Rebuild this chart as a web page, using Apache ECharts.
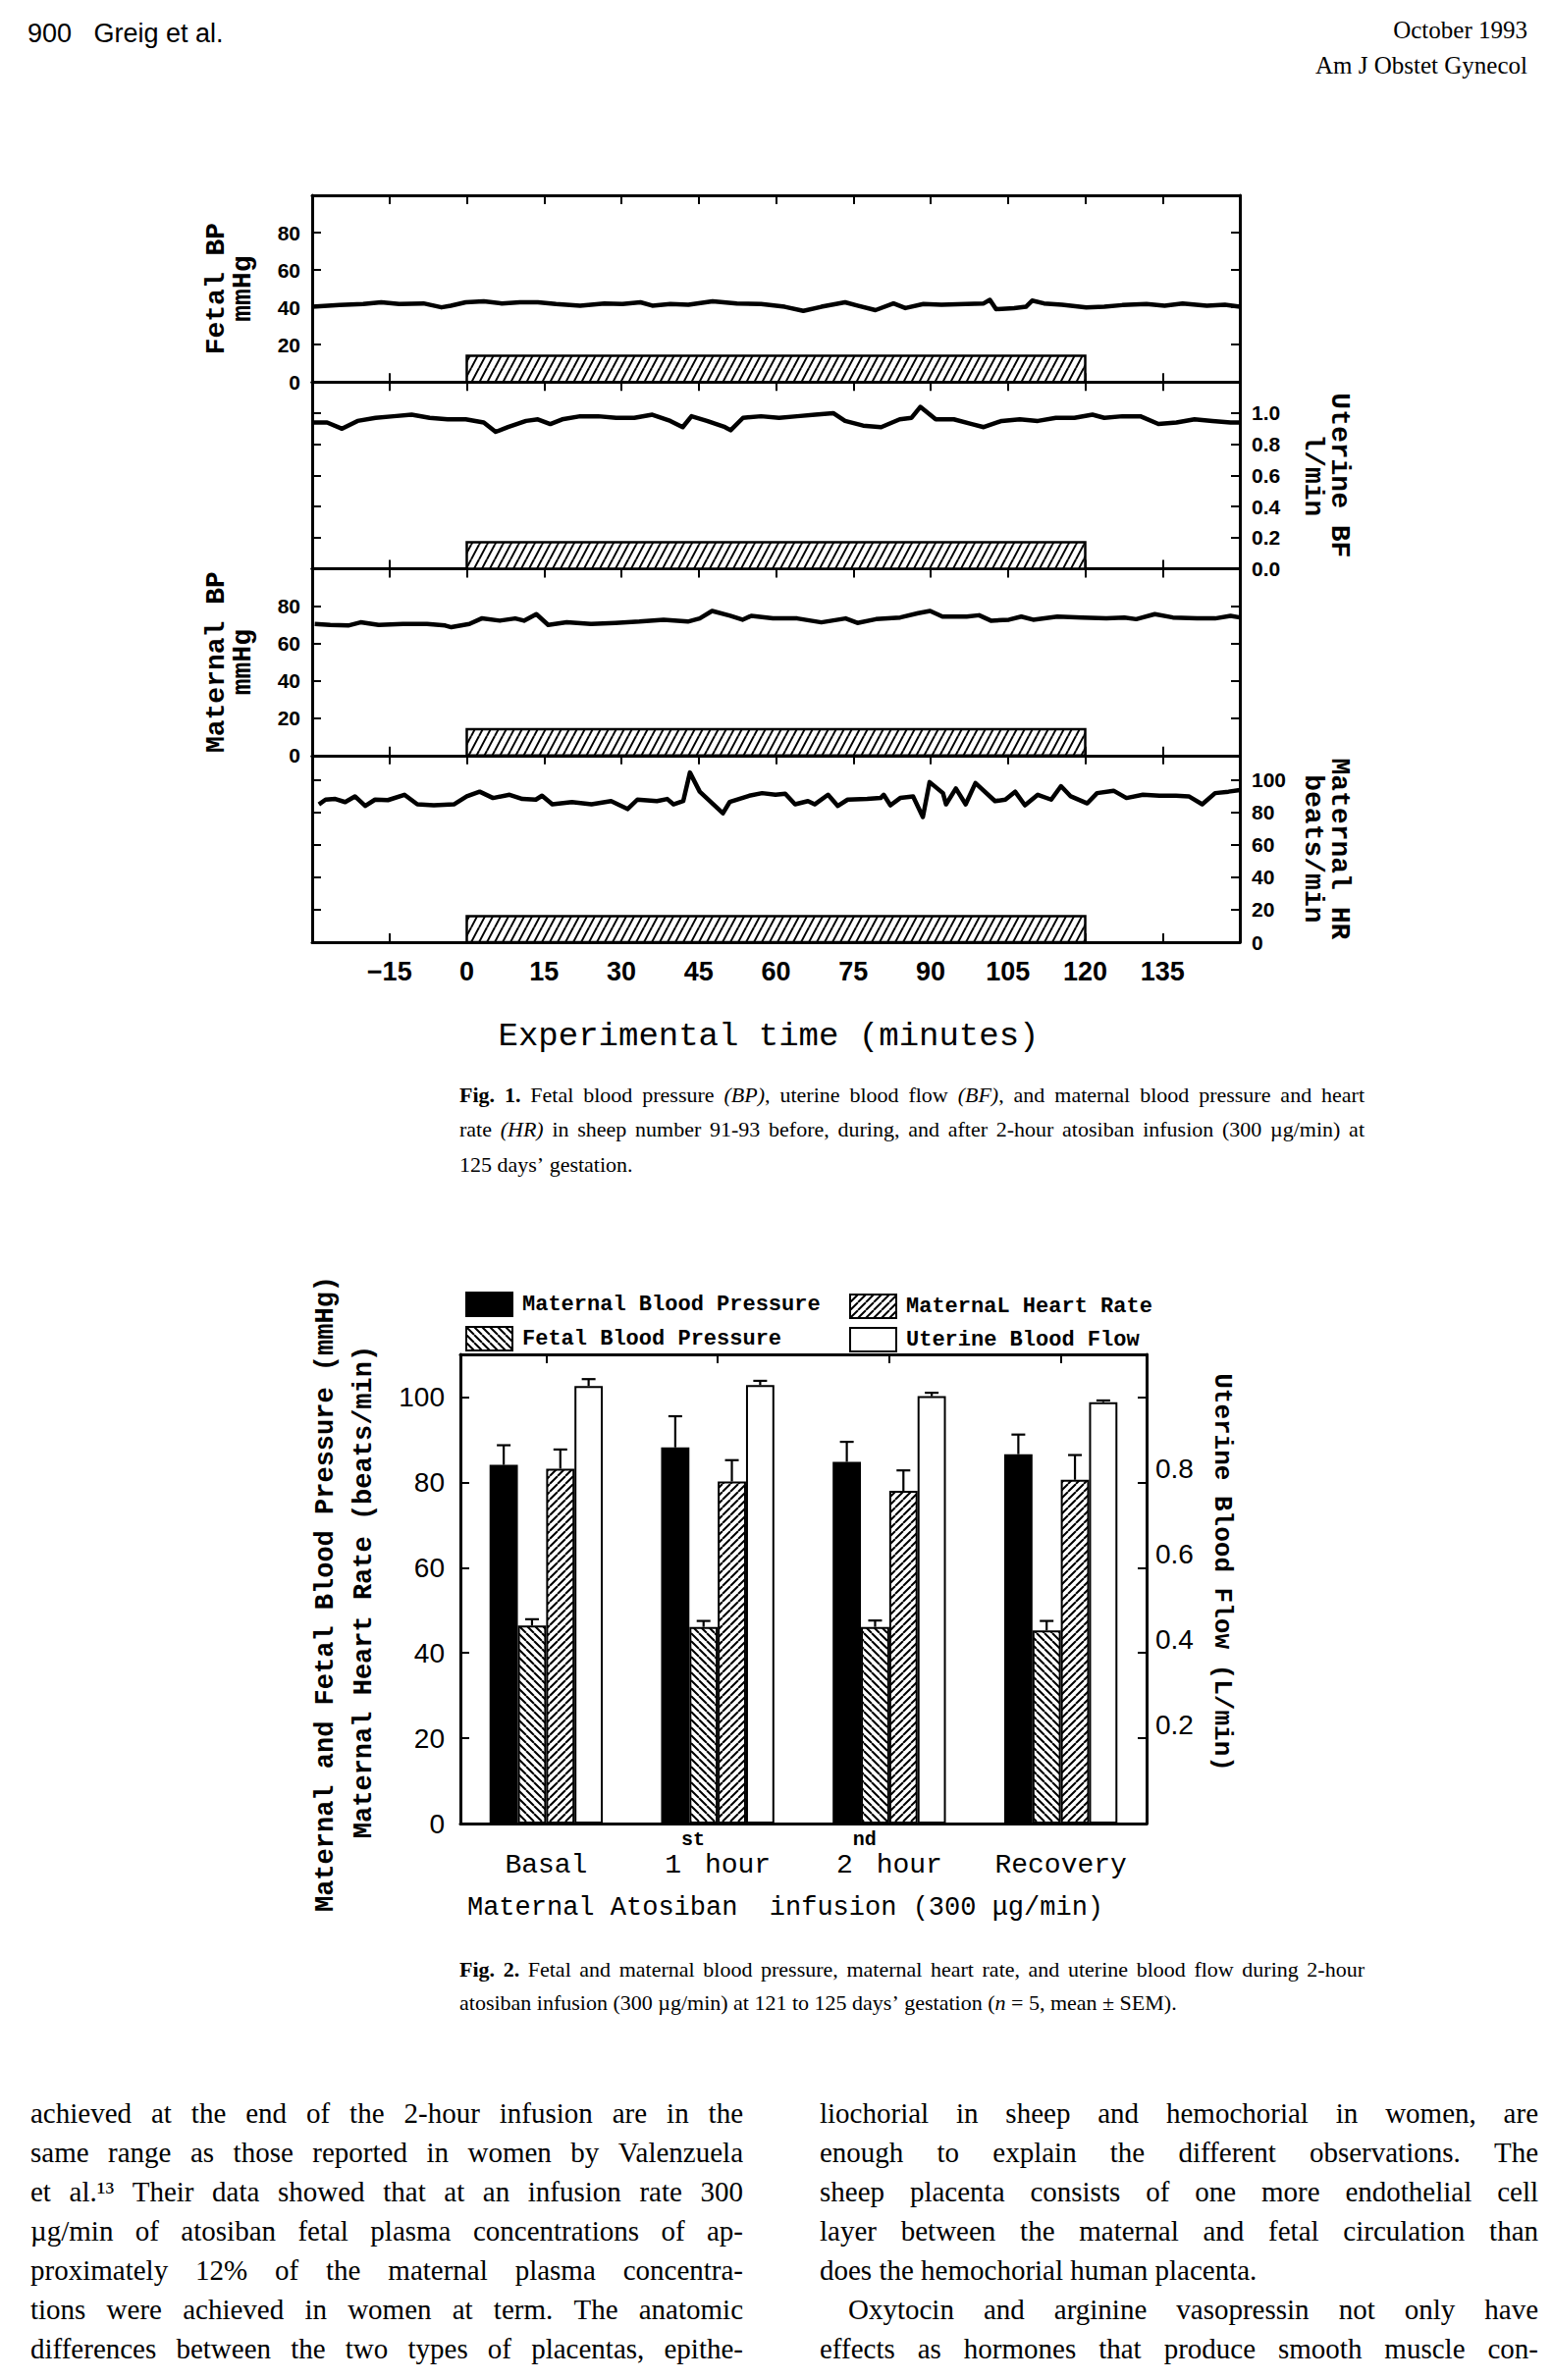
<!DOCTYPE html>
<html>
<head>
<meta charset="utf-8">
<script src="https://cdn.jsdelivr.net/npm/echarts/dist/echarts.min.js"></script>
<style>
html,body{margin:0;padding:0;background:#fff;}
#chart{width:1581px;height:2425px;}
</style>
</head>
<body>
<div id="chart"></div>
<script>
// ================= DATA =================
// Fig. 1 : time axis (minutes)
const timeMin = -30, timeMax = 150, timeStep = 15;
const infusionPeriod = [0, 120];              // atosiban infusion (min)
const infusionBarHeight = [14, 0.17, 14, 16]; // height of the hatched marker in each panel (axis units)

// Fetal BP (mmHg) : [time, value]
const fetalBP = [[-30,40.3],[-24.7,41.2],[-20.1,41.8],[-16.6,42.7],[-13.1,41.8],[-8.4,42.1],[-4.9,40.0],[-3.1,40.9],[-0.2,42.7],[3.3,43.2],[6.8,42.1],[10.3,42.7],[13.8,42.7],[17.3,41.8],[22.0,40.9],[26.7,42.1],[30.2,41.8],[33.7,42.7],[36.0,40.9],[39.5,41.8],[43.0,41.4],[47.7,43.2],[52.4,42.1],[57.1,41.8],[61.7,40.3],[65.3,38.1],[68.8,40.3],[73.4,42.7],[75.8,40.9],[79.3,38.5],[82.8,42.1],[85.1,39.6],[88.6,41.8],[92.1,41.4],[96.8,41.8],[100.3,42.1],[101.5,44.0],[102.7,39.0],[106.2,39.6],[108.5,40.3],[109.7,43.6],[112.0,42.1],[115.5,41.4],[120.2,40.0],[123.7,40.3],[127.2,41.2],[131.9,41.8],[135.4,40.9],[138.9,42.1],[143.6,40.9],[147.1,41.4],[150,40.3]];
// Uterine BF (l/min)
const uterineBF = [[-30,0.94],[-27.1,0.94],[-24.2,0.90],[-21.2,0.95],[-17.7,0.97],[-14.2,0.98],[-10.7,0.99],[-7.2,0.97],[-3.7,0.96],[-0.2,0.96],[3.3,0.94],[5.6,0.88],[8.0,0.91],[11.5,0.95],[13.8,0.96],[16.2,0.93],[18.5,0.96],[22.0,0.98],[25.5,0.98],[29.0,0.97],[32.5,0.97],[36.0,0.99],[39.5,0.95],[41.9,0.91],[43.6,0.98],[46.6,0.95],[50.1,0.91],[51.2,0.89],[53.6,0.97],[57.1,0.98],[60.6,0.97],[64.1,0.98],[67.6,0.99],[71.1,1.00],[73.4,0.95],[76.9,0.92],[80.4,0.91],[84.0,0.96],[86.3,0.97],[88.0,1.04],[91.0,0.96],[94.5,0.96],[98.0,0.93],[100.3,0.91],[103.8,0.95],[107.3,0.96],[110.8,0.95],[114.3,0.97],[117.9,0.97],[121.4,0.99],[123.7,0.97],[127.2,0.98],[130.7,0.98],[134.2,0.93],[137.7,0.94],[141.2,0.96],[144.7,0.95],[148.2,0.94],[150,0.94]];
// Maternal BP (mmHg)
const maternalBP = [[-29.5,70.4],[-26.5,69.9],[-23.0,69.6],[-20.6,71.3],[-17.1,69.9],[-12.4,70.4],[-7.7,70.4],[-4.2,69.6],[-3.0,68.7],[0.5,70.4],[2.9,73.4],[6.4,72.2],[9.4,73.4],[11.1,72.2],[13.5,75.7],[15.8,69.9],[19.4,71.3],[24.1,70.4],[28.8,71.0],[33.5,71.7],[38.2,72.7],[42.9,71.7],[45.2,73.4],[47.6,77.4],[51.1,74.8],[53.5,72.7],[55.2,74.8],[59.4,73.4],[64.1,73.4],[68.8,71.3],[73.5,73.4],[75.8,71.0],[79.4,73.0],[84.1,73.9],[87.6,76.2],[89.9,77.4],[92.3,74.4],[97.0,74.4],[99.4,75.1],[101.7,72.2],[105.2,72.7],[107.6,74.4],[109.9,72.7],[114.6,74.4],[119.4,73.9],[124.1,73.4],[127.6,73.9],[129.9,73.0],[133.5,75.7],[137.0,73.9],[141.7,73.4],[145.2,73.4],[148.2,74.8],[150,73.9]];
// Maternal HR (beats/min)
const maternalHR = [[-28.7,84.9],[-27.4,87.8],[-25.5,88.2],[-23.6,86.3],[-21.7,89.8],[-19.7,83.9],[-17.8,87.8],[-15.3,87.5],[-12.1,90.8],[-9.6,84.9],[-6.4,84.3],[-2.5,84.9],[0,89.8],[2.5,92.7],[5.1,88.8],[8.3,90.8],[10.8,88.2],[13.4,87.8],[14.6,90.2],[16.6,84.9],[20.4,86.3],[24.2,84.9],[28.0,86.9],[31.2,82.0],[33.1,87.8],[36.9,86.9],[38.9,88.2],[40.1,84.9],[42.0,86.9],[43.3,104.5],[45.2,92.7],[49.7,79.4],[51.0,86.3],[54.8,90.2],[57.3,91.8],[59.9,90.8],[61.8,91.4],[63.7,84.9],[66.2,86.9],[67.5,84.9],[70.1,90.8],[72.0,83.9],[73.9,87.8],[77.7,88.2],[80.3,88.8],[80.9,90.8],[82.2,84.3],[84.1,88.8],[86.6,89.8],[88.5,77.1],[89.8,98.6],[92.4,91.8],[93.0,84.9],[94.9,94.7],[96.8,84.9],[98.7,98.0],[102.5,86.9],[104.5,87.8],[106.4,92.7],[108.3,84.3],[110.8,90.8],[113.4,87.8],[115.3,96.1],[117.2,89.8],[120.4,85.5],[122.3,91.8],[125.5,93.3],[128.0,88.8],[131.2,90.8],[134.4,90.2],[137.6,90.2],[140.1,89.8],[142.7,84.9],[145.2,91.8],[147.8,92.7],[150,93.7]];
const panelTraces = [fetalBP, uterineBF, maternalBP, maternalHR];
const panelRanges = [[0,100,20],[0,1.2,0.2],[0,100,20],[0,115,20]]; // [min,max,interval]
const panelLeftTitles = ['Fetal BP\nmmHg', '', 'Maternal BP\nmmHg', ''];
const panelRightTitles = ['', 'Uterine BF\nl/min', '', 'Maternal HR\nbeats/min'];

// Fig. 2
const categories = ['Basal', '1st hour', '2nd hour', 'Recovery'];
const seriesNames = ['Maternal Blood Pressure', 'Fetal Blood Pressure', 'MaternaL Heart Rate', 'Uterine Blood Flow'];
const maternalBPMean = [84.1, 88.2, 84.8, 86.6];
const maternalBPSem  = [4.6, 7.3, 4.7, 4.6];
const fetalBPMean    = [46.4, 46.1, 46.1, 45.3];
const fetalBPSem     = [1.5, 1.4, 1.5, 2.2];
const maternalHRMean = [83.2, 80.2, 78.0, 80.6];
const maternalHRSem  = [4.5, 5.0, 4.8, 5.8];
const uterineBFMean  = [1.026, 1.028, 1.002, 0.988];
const uterineBFSem   = [0.016, 0.010, 0.008, 0.004];

// Text
const headerLeft = '900   Greig et al.';
const headerRight = ['October 1993', 'Am J Obstet Gynecol'];
const fig1XTitle = 'Experimental time (minutes)';
const fig2XTitle = 'Maternal Atosiban  infusion (300 \u03bcg/min)';
const fig2LeftTitles = ['Maternal and Fetal Blood Pressure (mmHg)', 'Maternal Heart Rate (beats/min)'];
const fig2RightTitle = 'Uterine Blood Flow (L/min)';
const caption1 = [
  '**Fig.** **1.** Fetal blood pressure _(BP)_, uterine blood flow _(BF)_, and maternal blood pressure and heart',
  'rate _(HR)_ in sheep number 91-93 before, during, and after 2-hour atosiban infusion (300 \u00b5g/min) at',
  '125 days\u2019 gestation.'
];
const caption2 = [
  '**Fig.** **2.** Fetal and maternal blood pressure, maternal heart rate, and uterine blood flow during 2-hour',
  'atosiban infusion (300 \u00b5g/min) at 121 to 125 days\u2019 gestation (_n_ = 5, mean \u00b1 SEM).'
];
const bodyLeft = [
  'achieved at the end of the 2-hour infusion are in the',
  'same range as those reported in women by Valenzuela',
  'et al.\u00b9\u00b3 Their data showed that at an infusion rate 300',
  '\u00b5g/min of atosiban fetal plasma concentrations of ap-',
  'proximately 12% of the maternal plasma concentra-',
  'tions were achieved in women at term. The anatomic',
  'differences between the two types of placentas, epithe-'
];
const bodyRight = [
  'liochorial in sheep and hemochorial in women, are',
  'enough to explain the different observations. The',
  'sheep placenta consists of one more endothelial cell',
  'layer between the maternal and fetal circulation than',
  'does the hemochorial human placenta.',
  'Oxytocin and arginine vasopressin not only have',
  'effects as hormones that produce smooth muscle con-'
];

// ================= STYLE / LAYOUT =================
const INK = '#000';
const MONO = '"Liberation Mono", "DejaVu Sans Mono", monospace';
const SANS = '"Liberation Sans", Arial, sans-serif';
const SERIF = '"Liberation Serif", "Times New Roman", serif';

function hatchCanvas(w, h, lw, slash) {
  const c = document.createElement('canvas');
  c.width = w; c.height = h;
  const g = c.getContext('2d');
  g.fillStyle = '#fff'; g.fillRect(0, 0, w, h);
  g.strokeStyle = INK; g.lineWidth = lw;
  g.beginPath();
  for (const o of [-w, 0, w]) {
    if (slash) { g.moveTo(o, h); g.lineTo(o + w, 0); }
    else { g.moveTo(o, 0); g.lineTo(o + w, h); }
  }
  g.stroke();
  return c;
}
const hatchFig1 = hatchCanvas(8, 15, 2, true);
const hatchSlash = hatchCanvas(8, 8, 2, true);
const hatchBack = hatchCanvas(8, 8, 2, false);

const F1 = { left: 318, width: 945, top: 199, ph: 190.25 };
const F2 = { left: 469, width: 699, top: 1380, height: 478 };

const axisLineStyle = { show: true, onZero: false, lineStyle: { color: INK, width: 3 } };
const tickInside = { show: true, inside: true, length: 9, lineStyle: { color: INK, width: 2 } };

const grids = [], xAxes = [], yAxes = [], series = [];

for (let i = 0; i < 4; i++) {
  grids.push({ left: F1.left, width: F1.width, top: F1.top + i * F1.ph, height: F1.ph });
  const xBase = { gridIndex: i, type: 'value', min: timeMin, max: timeMax, interval: timeStep,
    axisLine: axisLineStyle, axisTick: tickInside, splitLine: { show: false } };
  xAxes.push(Object.assign({}, xBase, { position: 'bottom',
    axisLabel: { show: i === 3, showMinLabel: false, showMaxLabel: false, margin: 16,
      fontFamily: SANS, fontWeight: 'bold', fontSize: 27, color: INK,
      formatter: v => v < 0 ? '\u2212' + (-v) : String(v) } }));
  xAxes.push(Object.assign({}, xBase, { position: 'top', axisLabel: { show: false } }));
  const r = panelRanges[i];
  const yBase = { gridIndex: i, type: 'value', min: r[0], max: r[1], interval: r[2],
    axisLine: axisLineStyle, axisTick: tickInside, splitLine: { show: false } };
  const lab = (show) => ({ show, showMaxLabel: false, margin: 12, fontFamily: SANS, fontWeight: 'bold',
    fontSize: 21, color: INK, formatter: v => r[2] < 1 ? v.toFixed(1) : String(v) });
  yAxes.push(Object.assign({}, yBase, { position: 'left', axisLabel: lab(i === 0 || i === 2) }));
  yAxes.push(Object.assign({}, yBase, { position: 'right', axisLabel: lab(i === 1 || i === 3) }));

  series.push({ type: 'custom', xAxisIndex: 2 * i, yAxisIndex: 2 * i, z: 2,
    data: [[infusionPeriod[0], infusionPeriod[1], infusionBarHeight[i]]],
    renderItem: (params, api) => {
      const p0 = api.coord([api.value(0), 0]);
      const p1 = api.coord([api.value(1), api.value(2)]);
      return { type: 'rect', shape: { x: p0[0], y: p1[1], width: p1[0] - p0[0], height: p0[1] - p1[1] },
        style: { fill: { image: hatchFig1, repeat: 'repeat' }, stroke: INK, lineWidth: 2.5 } };
    } });
  series.push({ type: 'line', xAxisIndex: 2 * i, yAxisIndex: 2 * i, z: 3, data: panelTraces[i],
    showSymbol: false, symbol: 'none', smooth: false,
    lineStyle: { color: INK, width: 4.5, join: 'round' } });
}

// Fig. 2 grid (index 4)
grids.push({ left: F2.left, width: F2.width, top: F2.top, height: F2.height });
const catLabel = {
  margin: 6, verticalAlign: 'top', color: INK,
  formatter: v => {
    const m = v.match(/^(\d)(st|nd) (.*)$/);
    return m ? `{n|${m[1]}}{s|${m[2]}}{n|${m[3]}}` : `{n|${v}}`;
  },
  rich: {
    n: { fontFamily: MONO, fontSize: 28, color: INK, lineHeight: 72 },
    s: { fontFamily: MONO, fontWeight: 'bold', fontSize: 20, color: INK, lineHeight: 20, verticalAlign: 'top' }
  }
};
xAxes.push({ gridIndex: 4, type: 'category', data: categories, position: 'bottom',
  axisLine: axisLineStyle, axisTick: { show: false }, axisLabel: catLabel });
xAxes.push({ gridIndex: 4, type: 'category', data: categories, position: 'top',
  axisLine: axisLineStyle, axisTick: Object.assign({ alignWithLabel: true }, tickInside), axisLabel: { show: false } });
yAxes.push({ gridIndex: 4, type: 'value', min: 0, max: 110, interval: 20, position: 'left',
  axisLine: axisLineStyle, axisTick: tickInside, splitLine: { show: false },
  axisLabel: { showMaxLabel: false, margin: 16, fontFamily: SANS, fontSize: 28, color: INK } });
yAxes.push({ gridIndex: 4, type: 'value', min: 0, max: 1.1, interval: 0.2, position: 'right',
  axisLine: axisLineStyle, axisTick: tickInside, splitLine: { show: false },
  axisLabel: { margin: 9, fontFamily: SANS, fontSize: 28, color: INK, verticalAlign: 'bottom',
    formatter: v => (v > 0.1 && v < 0.9) ? v.toFixed(1) : '' } });

const fig2Means = [maternalBPMean, fetalBPMean, maternalHRMean, uterineBFMean];
const fig2Sems = [maternalBPSem, fetalBPSem, maternalHRSem, uterineBFSem];
const fig2Fills = [INK, { image: hatchBack, repeat: 'repeat' }, { image: hatchSlash, repeat: 'repeat' }, '#fff'];
const CAT_GAP = 0.34;
for (let k = 0; k < 4; k++) {
  const yIdx = k === 3 ? 9 : 8;
  series.push({ name: seriesNames[k], type: 'bar', xAxisIndex: 8, yAxisIndex: yIdx,
    data: fig2Means[k], barGap: '0%', barCategoryGap: (CAT_GAP * 100) + '%',
    itemStyle: { color: fig2Fills[k], borderColor: INK, borderWidth: 2 } });
  series.push({ type: 'custom', xAxisIndex: 8, yAxisIndex: yIdx, z: 5,
    data: fig2Means[k].map((m, i) => [i, m, m + fig2Sems[k][i]]),
    renderItem: (params, api) => {
      const band = api.size([1, 0])[0];
      const bw = band * (1 - CAT_GAP) / 4;
      const pTop = api.coord([api.value(0), api.value(1)]);
      const pUp = api.coord([api.value(0), api.value(2)]);
      const x = pTop[0] + (k - 1.5) * bw;
      return { type: 'group', children: [
        { type: 'line', shape: { x1: x, y1: pTop[1], x2: x, y2: pUp[1] }, style: { stroke: INK, lineWidth: 2.2 } },
        { type: 'line', shape: { x1: x - 7, y1: pUp[1], x2: x + 7, y2: pUp[1] }, style: { stroke: INK, lineWidth: 2.2 } }
      ] };
    } });
}

// ================= TEXT (graphic) =================
const measureCtx = document.createElement('canvas').getContext('2d');
function parseWord(word) {
  const out = [];
  word.split(/(\*\*[^*]+\*\*|_[^_]+_)/).forEach(s => {
    if (!s) return;
    if (s.startsWith('**') && s.endsWith('**')) out.push({ t: s.slice(2, -2), w: 'bold', i: 'normal' });
    else if (s.length > 2 && s.startsWith('_') && s.endsWith('_')) out.push({ t: s.slice(1, -1), w: 'normal', i: 'italic' });
    else out.push({ t: s, w: 'normal', i: 'normal' });
  });
  return out;
}
function fontOf(seg, size, fam) { return `${seg.i} ${seg.w} ${size}px ${fam}`; }
const graphics = [];
function layoutLine(text, x0, x1, y, size, fam, justify) {
  const words = text.trim().split(/\s+/).map(parseWord);
  const widths = words.map(ws => ws.reduce((a, s) => { measureCtx.font = fontOf(s, size, fam); return a + measureCtx.measureText(s.t).width; }, 0));
  const total = widths.reduce((a, b) => a + b, 0);
  measureCtx.font = `normal normal ${size}px ${fam}`;
  const space = measureCtx.measureText(' ').width;
  const gap = (justify && words.length > 1) ? Math.max((x1 - x0 - total) / (words.length - 1), space * 0.6) : space;
  let x = x0;
  words.forEach((ws) => {
    ws.forEach(s => {
      measureCtx.font = fontOf(s, size, fam);
      graphics.push({ type: 'text', x, y, silent: true,
        style: { text: s.t, font: fontOf(s, size, fam), fill: INK, textAlign: 'left', textVerticalAlign: 'middle' } });
      x += measureCtx.measureText(s.t).width;
    });
    x += gap;
  });
}
function textEl(text, x, y, font, align, rotation) {
  return { type: 'text', x, y, rotation: rotation || 0, silent: true,
    style: { text, font, fill: INK, textAlign: align || 'center', textVerticalAlign: 'middle', lineHeight: 27 } };
}

// header
graphics.push(textEl(headerLeft, 28, 34, `normal 27px ${SANS}`, 'left'));
graphics.push(textEl(headerRight[0], 1556, 30, `normal 25px ${SERIF}`, 'right'));
graphics.push(textEl(headerRight[1], 1556, 66, `normal 25px ${SERIF}`, 'right'));

// Fig 1 titles
for (let i = 0; i < 4; i++) {
  const cy = F1.top + i * F1.ph + F1.ph / 2;
  if (panelLeftTitles[i]) graphics.push(textEl(panelLeftTitles[i], 234, cy, `bold 28px ${MONO}`, 'center', Math.PI / 2));
  if (panelRightTitles[i]) graphics.push(textEl(panelRightTitles[i], 1351, cy, `bold 28px ${MONO}`, 'center', -Math.PI / 2));
}
graphics.push(textEl(fig1XTitle, 783, 1056, `normal 34px ${MONO}`, 'center'));

// Fig 2 titles
graphics.push(textEl(fig2LeftTitles[0], 332, 1624, `bold 27px ${MONO}`, 'center', Math.PI / 2));
graphics.push(textEl(fig2LeftTitles[1], 371, 1622, `bold 27px ${MONO}`, 'center', Math.PI / 2));
graphics.push(textEl(fig2RightTitle, 1245, 1602, `bold 26px ${MONO}`, 'center', -Math.PI / 2));
graphics.push(textEl(fig2XTitle, 800, 1944, `normal 27px ${MONO}`, 'center'));

// captions
caption1.forEach((l, i) => layoutLine(l, 468, 1390, 1115 + i * 35.5, 22, SERIF, i < caption1.length - 1));
caption2.forEach((l, i) => layoutLine(l, 468, 1390, 2006 + i * 34, 22, SERIF, i < caption2.length - 1));
// body text
bodyLeft.forEach((l, i) => layoutLine(l, 31, 757, 2153 + i * 40, 29, SERIF, true));
bodyRight.forEach((l, i) => layoutLine(l, i === 5 ? 864 : 835, 1567, 2153 + i * 40, 29, SERIF, i !== 4));

// ================= CHART =================
const chart = echarts.init(document.getElementById('chart'), null, { renderer: 'svg', width: 1581, height: 2425 });
chart.setOption({
  backgroundColor: '#fff',
  animation: false,
  grid: grids,
  xAxis: xAxes,
  yAxis: yAxes,
  legend: [
    { data: [seriesNames[0], seriesNames[1]], left: 469, top: 1311, orient: 'vertical', icon: 'rect',
      itemWidth: 47, itemHeight: 24, itemGap: 9, selectedMode: false,
      textStyle: { fontFamily: MONO, fontWeight: 'bold', fontSize: 22, color: INK, padding: [0, 0, 0, 5] } },
    { data: [seriesNames[2], seriesNames[3]], left: 860, top: 1313, orient: 'vertical', icon: 'rect',
      itemWidth: 47, itemHeight: 24, itemGap: 8, selectedMode: false,
      textStyle: { fontFamily: MONO, fontWeight: 'bold', fontSize: 22, color: INK, padding: [0, 0, 0, 5] } }
  ],
  series: series,
  graphic: { elements: graphics }
});
</script>
</body>
</html>
